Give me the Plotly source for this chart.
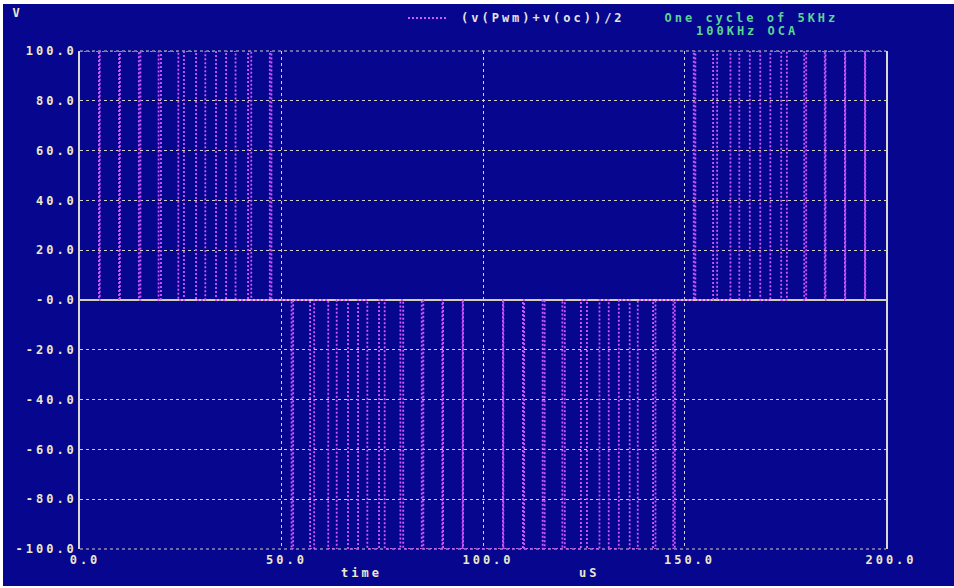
import plotly.graph_objects as go

# ---------------- data ----------------
# transition times (uS) and the level (V) the trace takes after each transition
q1_t = [4.7, 4.9, 9.7, 9.9, 14.6, 15.0, 19.5, 20.1, 24.4, 25.8, 28.8, 31.1,
        33.75, 36.25, 38.6, 41.7, 42.5, 47.1, 47.5]
q1_v = [0, 100, 0, 100, 0, 100, 0, 100, 0, 100, 0, 100,
        0, 100, 0, 100, 0, 100, 0]
q2_t = [52.5, 52.9, 57.1, 58.1, 61.6, 63.7, 66.5, 69.0, 71.3, 74.2, 75.6, 79.5,
        80.2, 84.8, 85.2, 89.9, 90.1, 94.95, 95.05]
q2_v = [-100, 0, -100, 0, -100, 0, -100, 0, -100, 0, -100, 0,
        -100, 0, -100, 0, -100, 0, -100]
q3_t = [104.95, 105.05, 109.9, 110.2, 114.8, 115.3, 119.7, 120.3, 124.3, 125.8,
        128.9, 131.2, 133.7, 136.4, 138.4, 142.2, 142.8, 147.2, 147.6]
q3_v = [0, -100, 0, -100, 0, -100, 0, -100, 0, -100,
        0, -100, 0, -100, 0, -100, 0, -100, 0]
q4_t = [152.3, 152.7, 157.1, 158.1, 161.4, 163.6, 166.2, 168.8, 171.3, 174.0,
        175.4, 179.7, 180.2, 184.8, 185.0, 189.8, 189.9, 194.75, 194.85]
q4_v = [100, 0, 100, 0, 100, 0, 100, 0, 100, 0,
        100, 0, 100, 0, 100, 0, 100, 0, 100]
t_start, v_start = 0.0, 100
t_end, v_end = 200.0, 100

x_ticks = [0, 50, 100, 150, 200]
x_ticktext = ["0.0", "50.0", "100.0", "150.0", "200.0"]
y_ticks = [100, 80, 60, 40, 20, 0, -20, -40, -60, -80, -100]
y_ticktext = ["100.0", "80.0", "60.0", "40.0", "20.0", "-0.0",
              "-20.0", "-40.0", "-60.0", "-80.0", "-100.0"]

trace_name = "(v(Pwm)+v(oc))/2"
note1 = "One cycle of 5KHz"
note2 = "100KHz OCA"
x_title = "time"
x_unit = "uS"
y_unit = "V"

# ---------------- styling ----------------
W, H = 954, 588
L, R, T, B = 80, 68, 51, 39
PW, PH = W - L - R, H - T - B
BLUE = "#06068e"
MAG = "#d757ff"
GRID = "#d4d2c0"
TXT = "#ece8cc"
GREEN = "#5cd494"
FONT = "DejaVu Sans Mono"


def px(xp):
    return (xp - L) / PW


def py(yp):
    return (H - B - yp) / PH


xs = [t_start] + q1_t + q2_t + q3_t + q4_t + [t_end]
ys = [v_start] + q1_v + q2_v + q3_v + q4_v + [v_end]

fig = go.Figure()
fig.add_trace(go.Scatter(
    x=xs, y=ys, mode="lines", name=trace_name, hoverinfo="skip",
    line=dict(color=MAG, width=1.8, dash="2px,2px", shape="hv"),
    showlegend=False))

shapes = [
    # dark blue screen area (white rim around it)
    dict(type="rect", xref="paper", yref="paper", layer="below",
         x0=px(3), x1=px(W + 2), y0=py(586), y1=py(4),
         fillcolor=BLUE, line=dict(width=0)),
    # dotted top / bottom frame lines
    dict(type="line", xref="paper", yref="paper", layer="below",
         x0=0, x1=1, y0=1, y1=1, line=dict(color=GRID, width=1, dash="dot")),
    dict(type="line", xref="paper", yref="paper", layer="below",
         x0=0, x1=1, y0=0, y1=0, line=dict(color=GRID, width=1, dash="dot")),
    # legend sample line
    dict(type="line", xref="paper", yref="paper",
         x0=px(408), x1=px(446), y0=py(18), y1=py(18),
         line=dict(color=MAG, width=1.8, dash="2px,2px")),
]

def ann(text, xp, yp, color, anchor="center"):
    return dict(text=text, xref="paper", yref="paper", x=px(xp), y=py(yp),
                xanchor=anchor, yanchor="middle", showarrow=False,
                font=dict(family=FONT, size=12, color=color, weight="bold"))

annotations = [
    ann(y_unit, 17, 13, TXT),
    ann(trace_name, 543, 18, "#e4e4e4"),
    ann(note1, 751, 18, GREEN),
    ann(note2, 747, 31, GREEN),
    ann(x_title, 361, 573, TXT),
    ann(x_unit, 589, 573, TXT),
]

fig.update_layout(
    width=W, height=H,
    margin=dict(l=L, r=R, t=T, b=B, pad=0),
    paper_bgcolor="white", plot_bgcolor=BLUE,
    font=dict(family=FONT, size=12, color=TXT, weight="bold"),
    shapes=shapes, annotations=annotations,
    showlegend=False,
)
fig.update_xaxes(
    range=[0, 200], tickvals=x_ticks, ticktext=x_ticktext,
    showgrid=True, gridcolor=GRID, griddash="dot", gridwidth=1,
    zeroline=False, showline=False, ticks="", ticklabelshift=5,
    ticklabelstandoff=2,
    tickfont=dict(family=FONT, size=12, color=TXT, weight="bold"),
)
fig.update_yaxes(
    range=[-100, 100], tickvals=y_ticks, ticktext=y_ticktext,
    showgrid=True, gridcolor=GRID, griddash="dot", gridwidth=1,
    zeroline=True, zerolinecolor="#d4cfb4", zerolinewidth=2,
    showline=True, mirror=True, linecolor="#d8d8d0", linewidth=1.5,
    ticks="", ticklabelstandoff=-1,
    tickfont=dict(family=FONT, size=12, color=TXT, weight="bold"),
)

post = """
document.body.style.margin = '0';
document.body.style.overflow = 'hidden';
var gd = document.getElementById('{plot_id}');
function ls(){ gd.querySelectorAll('text').forEach(function(t){ t.style.letterSpacing='3px'; }); }
ls(); gd.on('plotly_afterplot', ls); setTimeout(ls, 50);
"""
fig.write_html("out.html", post_script=post, config={"displayModeBar": False})
